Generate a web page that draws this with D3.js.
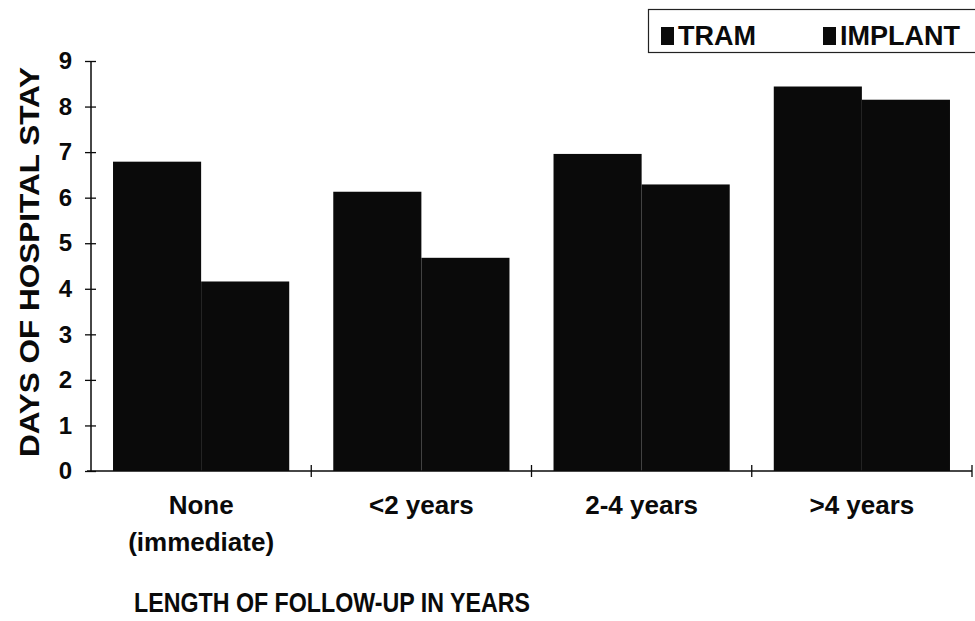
<!DOCTYPE html>
<html>
<head>
<meta charset="utf-8">
<script src="https://cdn.jsdelivr.net/npm/d3@7"></script>
<style>
  html, body { margin: 0; padding: 0; background: #fff; }
  svg { display: block; font-family: "Liberation Sans", Arial, sans-serif; }
</style>
</head>
<body>
<svg id="chart" width="975" height="621"></svg>
<script>
const categories = ["None\n(immediate)", "<2 years", "2-4 years", ">4 years"];
const seriesNames = ["TRAM", "IMPLANT"];
const tramValues = [6.79, 6.13, 6.96, 8.44];
const implantValues = [4.16, 4.68, 6.29, 8.15];
const yTicks = [0, 1, 2, 3, 4, 5, 6, 7, 8, 9];
const yTitle = "DAYS OF HOSPITAL STAY";
const xTitle = "LENGTH OF FOLLOW-UP IN YEARS";

const svg = d3.select("#chart");
const ink = "#0a0a0a";

const x = d3.scaleBand().domain(categories).range([91, 972]).paddingInner(0.2).paddingOuter(0.1);
const x1 = d3.scaleBand().domain(seriesNames).range([0, x.bandwidth()]).padding(0);
const y = d3.scaleLinear().domain([0, 9]).range([471, 61]);

const rows = categories.map((c, i) => ({ cat: c, vals: [
  { s: "TRAM", v: tramValues[i] },
  { s: "IMPLANT", v: implantValues[i] }
]}));

// bars
const g = svg.append("g");
g.selectAll("g.grp").data(rows).join("g")
  .attr("transform", d => `translate(${x(d.cat)},0)`)
  .selectAll("rect").data(d => d.vals).join("rect")
  .attr("x", d => x1(d.s))
  .attr("width", x1.bandwidth())
  .attr("y", d => y(d.v))
  .attr("height", d => y(0) - y(d.v))
  .attr("fill", ink);

// y axis
const yAxis = d3.axisLeft(y).tickValues(yTicks).tickFormat(d3.format("d")).tickSize(6).tickPadding(13);
const ya = svg.append("g").attr("transform", "translate(91,0)").call(yAxis);
ya.select(".domain").attr("stroke", ink).attr("stroke-width", 1.5).attr("d", `M0,${y(9)}V${y(0)}`);
ya.selectAll(".tick line").attr("x1", 5).attr("x2", -6).attr("stroke", ink).attr("stroke-width", 1.3);
ya.selectAll(".tick text").attr("font-size", 24).attr("font-weight", "bold").attr("fill", ink)
  .attr("font-family", "Liberation Sans, Arial, sans-serif");

// x axis line
const x0 = x.range()[0], xEnd = x.range()[1];
svg.append("line").attr("x1", x0 - 4).attr("x2", xEnd).attr("y1", y(0)).attr("y2", y(0))
  .attr("stroke", ink).attr("stroke-width", 1.5);
const bounds = d3.range(1, categories.length + 1).map(i => x0 + i * x.step());
svg.selectAll("line.xt").data(bounds).join("line").attr("class", "xt")
  .attr("x1", d => d).attr("x2", d => d).attr("y1", y(0) - 6).attr("y2", y(0) + 6)
  .attr("stroke", ink).attr("stroke-width", 1.3);

// category labels
svg.selectAll("text.cat").data(categories).join("text").attr("class", "cat")
  .attr("text-anchor", "middle")
  .attr("font-size", 26).attr("font-weight", "bold").attr("fill", ink)
  .each(function(d) {
    const t = d3.select(this);
    const cx = x(d) + x.bandwidth() / 2;
    d.split("\n").forEach((line, i) => {
      t.append("tspan").attr("x", cx).attr("y", 514 + i * 37).text(line);
    });
  });

// axis titles
svg.append("text").attr("x", 332).attr("y", 612).attr("text-anchor", "middle")
  .attr("font-size", 28).attr("font-weight", "bold").attr("fill", ink)
  .attr("textLength", 396).attr("lengthAdjust", "spacingAndGlyphs")
  .text(xTitle);
svg.append("text").attr("transform", "translate(39,262) rotate(-90)").attr("text-anchor", "middle")
  .attr("font-size", 28).attr("font-weight", "bold").attr("fill", ink)
  .attr("textLength", 390).attr("lengthAdjust", "spacingAndGlyphs")
  .text(yTitle);

// legend
svg.append("rect").attr("x", 648.5).attr("y", 9.5).attr("width", 340).attr("height", 43)
  .attr("fill", "none").attr("stroke", "#222").attr("stroke-width", 1.2);
const legX = [661, 823];
const lg = svg.selectAll("g.leg").data(seriesNames).join("g").attr("class", "leg")
  .attr("transform", (d, i) => `translate(${legX[i]},0)`);
lg.append("rect").attr("x", 0).attr("y", 27).attr("width", 13).attr("height", 18).attr("fill", ink);
lg.append("text").attr("x", 17).attr("y", 45).attr("font-size", 27).attr("font-weight", "bold")
  .attr("fill", ink).text(d => d);
</script>
</body>
</html>
